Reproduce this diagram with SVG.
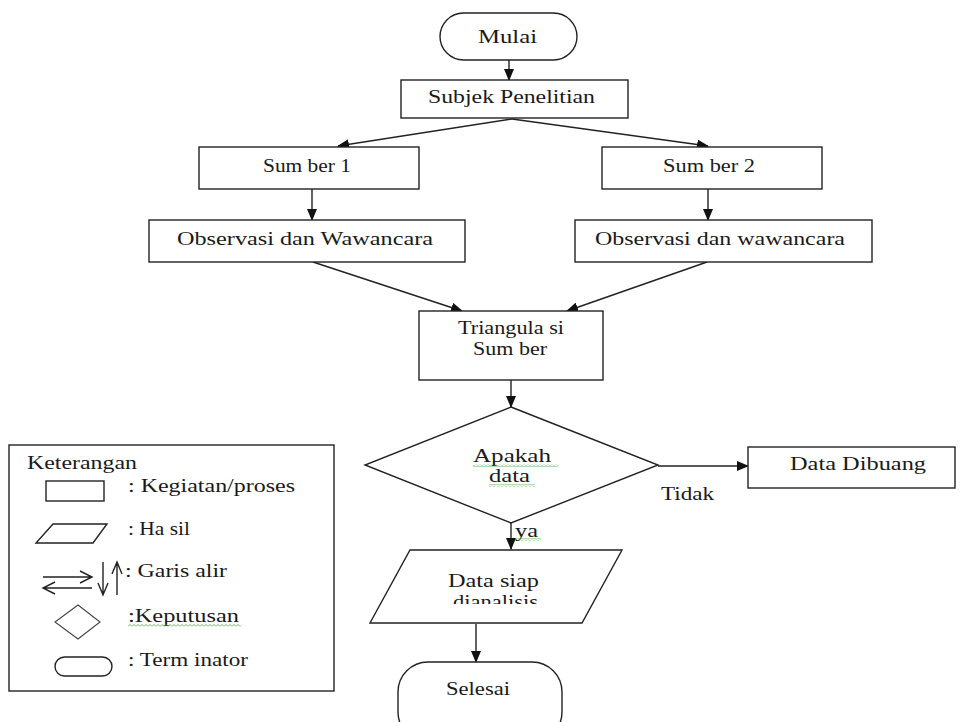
<svg xmlns="http://www.w3.org/2000/svg" width="960" height="722" viewBox="0 0 960 722">
<defs>
<style>
.s{fill:#fff;stroke:#222;stroke-width:1.4}
.c{fill:none;stroke:#222;stroke-width:1.4}
.t{font-family:"Liberation Serif","Times New Roman",serif;font-size:18px;fill:#1a1a1a}
.m{text-anchor:start}
.sq{fill:url(#wavy)}
</style>
<marker id="ah" markerWidth="12" markerHeight="10" refX="11" refY="5" orient="auto" markerUnits="userSpaceOnUse">
<path d="M0,0 L12,5 L0,10 z" fill="#111"/>
</marker>
<pattern id="wavy" width="4" height="3" patternUnits="userSpaceOnUse">
<path d="M0,2.5 L2,0.5 L4,2.5" fill="none" stroke="#3aa83a" stroke-width="0.8"/>
</pattern>
<clipPath id="pclip"><rect x="360" y="540" width="280" height="64"/></clipPath>
</defs>
<rect width="960" height="722" fill="#fff"/>

<g id="connectors">
<line class="c" x1="509" y1="60" x2="509" y2="80" marker-end="url(#ah)"/>
<line class="c" x1="512" y1="119" x2="338" y2="146" marker-end="url(#ah)"/>
<line class="c" x1="512" y1="119" x2="708" y2="146" marker-end="url(#ah)"/>
<line class="c" x1="312" y1="189" x2="312" y2="220" marker-end="url(#ah)"/>
<line class="c" x1="708" y1="189" x2="708" y2="220" marker-end="url(#ah)"/>
<line class="c" x1="313" y1="262" x2="462" y2="311" marker-end="url(#ah)"/>
<line class="c" x1="707" y1="262" x2="567" y2="311" marker-end="url(#ah)"/>
<line class="c" x1="511" y1="380" x2="511" y2="407" marker-end="url(#ah)"/>
<line class="c" x1="658" y1="466" x2="748" y2="466" marker-end="url(#ah)"/>
<line class="c" x1="511" y1="523" x2="511" y2="549" marker-end="url(#ah)"/>
<line class="c" x1="476" y1="624" x2="476" y2="662" marker-end="url(#ah)"/>
<text class="t" x="661" y="500" textLength="53" lengthAdjust="spacingAndGlyphs">Tidak</text>
<text class="t" x="515" y="537" textLength="23" lengthAdjust="spacingAndGlyphs">ya</text>
<rect class="sq" x="515" y="538" width="26" height="3"/>
</g>

<g id="mulai">
<rect class="s" x="440" y="13" width="137" height="47" rx="23.5"/>
<text class="t" x="478" y="43" textLength="59" lengthAdjust="spacingAndGlyphs">Mulai</text>
</g>

<g id="subjek">
<rect class="s" x="401" y="80" width="227" height="38"/>
<text class="t" x="428" y="103" textLength="167" lengthAdjust="spacingAndGlyphs">Subjek Penelitian</text>
</g>

<g id="sumber1">
<rect class="s" x="199" y="147" width="220" height="42"/>
<text class="t" x="263" y="172" textLength="88" lengthAdjust="spacingAndGlyphs">Sum ber 1</text>
</g>

<g id="sumber2">
<rect class="s" x="602" y="147" width="220" height="42"/>
<text class="t" x="663" y="172" textLength="92" lengthAdjust="spacingAndGlyphs">Sum ber 2</text>
</g>

<g id="obs1">
<rect class="s" x="149" y="220" width="316" height="42"/>
<text class="t" x="177" y="245" textLength="256" lengthAdjust="spacingAndGlyphs">Observasi dan Wawancara</text>
</g>

<g id="obs2">
<rect class="s" x="575" y="220" width="297" height="42"/>
<text class="t" x="595" y="245" textLength="250" lengthAdjust="spacingAndGlyphs">Observasi dan wawancara</text>
</g>

<g id="triangulasi">
<rect class="s" x="419" y="311" width="184" height="69"/>
<text class="t" x="458" y="334" textLength="106" lengthAdjust="spacingAndGlyphs">Triangula si</text>
<text class="t" x="473" y="355" textLength="74" lengthAdjust="spacingAndGlyphs">Sum ber</text>
</g>

<g id="keputusan">
<polygon class="s" points="511,407 658,465 511,523 365,465"/>
<text class="t" x="473" y="462" textLength="78" lengthAdjust="spacingAndGlyphs">Apakah</text>
<rect class="sq" x="473" y="464" width="85" height="3"/>
<text class="t" x="489" y="482" textLength="41" lengthAdjust="spacingAndGlyphs">data</text>
<rect class="sq" x="489" y="484" width="46" height="3"/>
</g>

<g id="dibuang">
<rect class="s" x="748" y="447" width="207" height="41"/>
<text class="t" x="790" y="470" textLength="136" lengthAdjust="spacingAndGlyphs">Data Dibuang</text>
</g>

<g id="hasil">
<polygon class="s" points="410,550 622,550 582,623 370,623"/>
<text class="t" x="448" y="587" textLength="91" lengthAdjust="spacingAndGlyphs">Data siap</text>
<g clip-path="url(#pclip)">
<text class="t" x="453" y="608" textLength="85" lengthAdjust="spacingAndGlyphs">dianalisis</text>
</g>
</g>

<g id="selesai">
<rect class="s" x="398" y="662" width="164" height="80" rx="30"/>
<text class="t" x="446" y="695" textLength="64" lengthAdjust="spacingAndGlyphs">Selesai</text>
</g>

<g id="legend">
<rect class="s" x="9" y="445" width="325" height="246"/>
<text class="t" x="27" y="469" textLength="110" lengthAdjust="spacingAndGlyphs">Keterangan</text>
<rect class="s" x="46" y="481" width="58" height="20"/>
<text class="t" x="128" y="492" textLength="167" lengthAdjust="spacingAndGlyphs">: Kegiatan/proses</text>
<polygon class="s" points="53,524 107,524 93,543 36,543"/>
<text class="t" x="128" y="535" textLength="62" lengthAdjust="spacingAndGlyphs">: Ha sil</text>
<path class="c" d="M43,577 H92 M80,571 L92,577 L80,583"/>
<path class="c" d="M92,588 H43 M55,582 L43,588 L55,594"/>
<path class="c" d="M103,562 V595 M98,583 L103,595 L108,583"/>
<path class="c" d="M117,595 V562 M112,574 L117,562 L122,574"/>
<text class="t" x="125" y="577" textLength="102" lengthAdjust="spacingAndGlyphs">: Garis alir</text>
<polygon class="s" points="78,605 100,622 78,639 55,622" style="stroke:#444;stroke-width:1.1"/>
<text class="t" x="128" y="622" textLength="111" lengthAdjust="spacingAndGlyphs">:Keputusan</text>
<rect class="sq" x="128" y="624" width="113" height="3"/>
<rect class="s" x="55" y="657" width="57" height="19" rx="9.5"/>
<text class="t" x="128" y="666" textLength="120" lengthAdjust="spacingAndGlyphs">: Term inator</text>
</g>
</svg>
